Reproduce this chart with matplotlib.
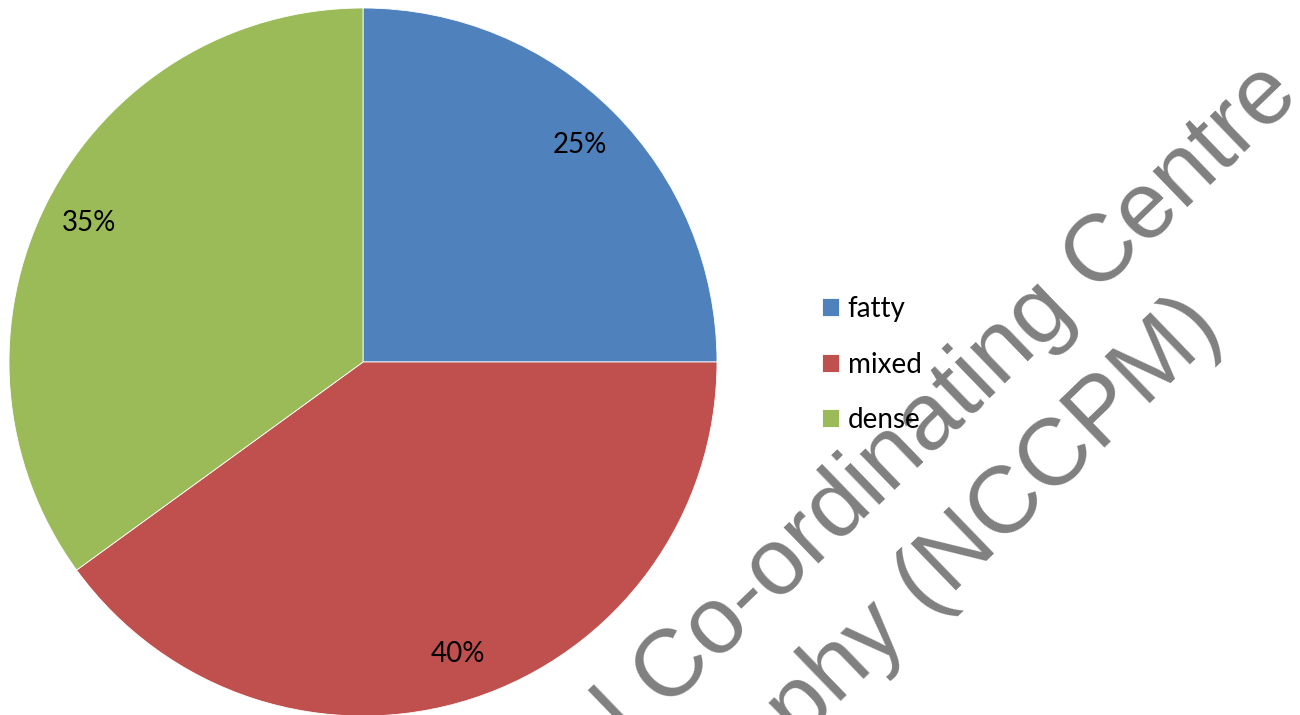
import matplotlib.pyplot as plt

# breast density breakdown
categories = ['fatty', 'mixed', 'dense']
shares = [25, 40, 35]
colors = ['#4F81BD', '#C0504D', '#9BBB59']

watermark_lines = ['National Co-ordinating Centre',
                   'for the Physics of Mammography (NCCPM)']

W, H = 1300, 715
fig = plt.figure(figsize=(W / 100, H / 100), dpi=100)

# pie axes: square box of 708 px centred at (363, 362)
cx, cy, r = 363, 362, 354
ax = fig.add_axes([(cx - r) / W, (H - cy - r) / H, 2 * r / W, 2 * r / H])
wedges, texts, autotexts = ax.pie(
    shares, colors=colors, startangle=90, counterclock=False,
    autopct='%1.0f%%', pctdistance=0.868, radius=1,
    wedgeprops=dict(linewidth=0.6, edgecolor='white'),
    textprops=dict(fontsize=20, family='Lato', color='black'))
ax.set_xlim(-1, 1)
ax.set_ylim(-1, 1)
ax.axis('off')

fig.legend(wedges, categories, loc='center left',
           bbox_to_anchor=(822 / W, 1 - 364.5 / H), frameon=False,
           prop=dict(family='Lato', size=20), borderpad=0, borderaxespad=0,
           handlelength=0.62, handleheight=0.62, handletextpad=0.3,
           labelspacing=1.06)

# diagonal watermark, anchored at the right end of each line
ends = [(1301, 97), (1225, 331)]
for line, (x, y) in zip(watermark_lines, ends):
    fig.text(x / W, 1 - y / H, line, rotation=44, rotation_mode='anchor',
             ha='right', va='baseline', fontsize=68.5,
             family='Liberation Sans', color='#808080')

fig.savefig('out.png', dpi=100)
